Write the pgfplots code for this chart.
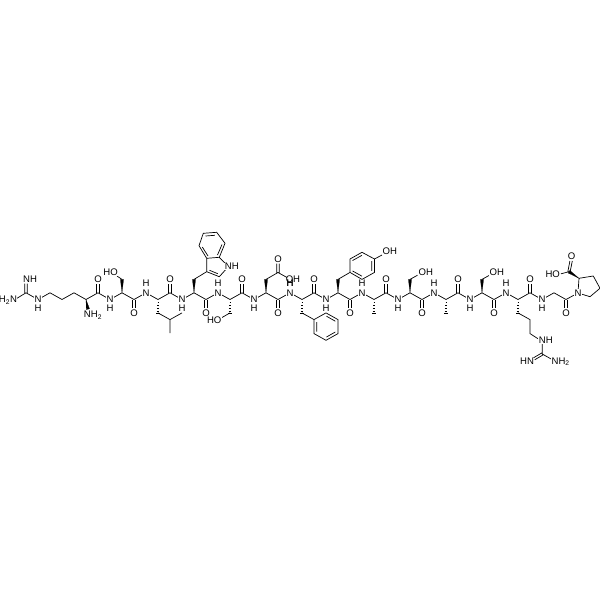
\documentclass[border=0pt]{standalone}
\usepackage{pgfplots}
\pgfplotsset{compat=1.18}
\usepackage{fontspec}
\setmainfont{Liberation Sans}
\pgfplotsset{bond/.style={black,line width=0.7pt,mark=none,line join=round,unbounded coords=jump},
  wdg/.style={black,fill=black,line width=0.2pt,mark=none}}
\tikzset{atom/.style={fill=white,inner sep=0.4pt,font=\fontsize{9.6}{10}\selectfont},
  lab/.style={inner sep=0pt,font=\fontsize{9.6}{10}\selectfont}}
\begin{document}
\begin{tikzpicture}
\path[use as bounding box] (0,0) rectangle (600bp,600bp);
\begin{axis}[at={(0,0)},anchor=south west,width=600bp,height=600bp,scale only axis,hide axis,
  xmin=0,xmax=600,ymin=0,ymax=600,y dir=reverse,clip=false]
% backbone
\addplot[bond] coordinates {(26,292.8)(38,299.5)(50,292.8)(62,299.5)(74,292.8)(86,299.5)(98,292.8)(110,299.5)(122,292.8)(134,299.5)(146,292.8)(158,299.5)(170,292.8)(182,299.5)(194,292.8)(206,299.5)(218,292.8)(230,299.5)(242,292.8)(254,299.5)(266,292.8)(278,299.5)(290,292.8)(302,299.5)(314,292.8)(326,299.5)(338,292.8)(350,299.5)(362,292.8)(374,299.5)(386,292.8)(398,299.5)(410,292.8)(422,299.5)(434,292.8)(446,299.5)(458,292.8)(470,299.5)(482,292.8)(494,299.5)(506,292.8)(518,299.5)(530,292.8)(542,299.5)(554,292.8)(566,299.5)(578,293)};
% carbonyls
\addplot[bond] coordinates {(96.8,292.8)(96.8,284)(nan,nan)(99.2,292.8)(99.2,284)(nan,nan)
(168.8,292.8)(168.8,284)(nan,nan)(171.2,292.8)(171.2,284)(nan,nan)
(240.8,292.8)(240.8,284)(nan,nan)(243.2,292.8)(243.2,284)(nan,nan)
(312.8,292.8)(312.8,284)(nan,nan)(315.2,292.8)(315.2,284)(nan,nan)
(384.8,292.8)(384.8,284)(nan,nan)(387.2,292.8)(387.2,284)(nan,nan)
(456.8,292.8)(456.8,284)(nan,nan)(459.2,292.8)(459.2,284)(nan,nan)
(528.8,292.8)(528.8,284)(nan,nan)(531.2,292.8)(531.2,284)(nan,nan)
(132.8,299.5)(132.8,308)(nan,nan)(135.2,299.5)(135.2,308)(nan,nan)
(204.8,299.5)(204.8,308)(nan,nan)(207.2,299.5)(207.2,308)(nan,nan)
(276.8,299.5)(276.8,308)(nan,nan)(279.2,299.5)(279.2,308)(nan,nan)
(348.8,299.5)(348.8,308)(nan,nan)(351.2,299.5)(351.2,308)(nan,nan)
(420.8,299.5)(420.8,308)(nan,nan)(423.2,299.5)(423.2,308)(nan,nan)
(492.8,299.5)(492.8,308)(nan,nan)(495.2,299.5)(495.2,308)(nan,nan)
(564.8,299.5)(564.8,308)(nan,nan)(567.2,299.5)(567.2,308)};
% guanidine left
\addplot[bond] coordinates {(15,299.5)(26,292.8)(nan,nan)(24.8,292.8)(24.8,283.5)(nan,nan)(27.2,292.8)(27.2,283.5)};
% serine 2
\addplot[bond] coordinates {(122,279.4)(117,276)};
% leucine
\addplot[bond] coordinates {(158,312.9)(170,319.6)(170,333)(nan,nan)(170,319.6)(182,312.9)};
% tryptophan and indole
\addplot[bond] coordinates {(194,279.4)(206.7,271.7)(206.7,258.3)(199,245.7)(203.3,233.3)(216.7,232.3)(225,243.3)(219.3,257.3)(206.7,258.3)(nan,nan)
(206.7,271.7)(219.3,276.7)(228.3,266.7)(219.3,257.3)(nan,nan)
(205.5,236)(214.8,235.3)(nan,nan)(222,244.5)(217.5,255)(nan,nan)(208,256)(202.3,247)(nan,nan)
(209.5,270.3)(217.8,273.7)};
% serine 5
\addplot[bond] coordinates {(230,312.9)(222,317.5)};
% aspartate
\addplot[bond] coordinates {(266,279.4)(278,272.5)(287,277.5)(nan,nan)(276.8,272.5)(276.8,263.5)(nan,nan)(279.2,272.5)(279.2,263.5)};
% phenylalanine
\addplot[bond] coordinates {(302,312.9)(314,319.6)(326,312.9)(338,319.6)(338,333.6)(326,340.3)(314,333.6)(314,319.6)(nan,nan)
(326.5,316.2)(335.3,321.2)(nan,nan)(335.3,332)(326.5,337)(nan,nan)(316.7,331.5)(316.7,322)};
% tyrosine
\addplot[bond] coordinates {(338,279.4)(350,272.4)(350,259)(362,252.3)(374.5,259)(374.5,272.4)(362,279.4)(350,272.4)(nan,nan)
(352.6,260.5)(362,255.3)(nan,nan)(371.8,261)(371.8,270.8)(nan,nan)(362,276.2)(352.6,271)(nan,nan)(374.5,259)(382,255)};
% serine side chains
\addplot[bond] coordinates {(410,279.4)(417.5,275.2)(nan,nan)(482,279.4)(489.5,275.2)};
% arginine right
\addplot[bond] coordinates {(518,312.9)(530,319.6)(530,333.6)(540,340)(nan,nan)(542.3,344)(542.3,354)(552,359.5)(nan,nan)
(541.7,353)(533.5,357.8)(nan,nan)(542.9,355)(534.7,359.8)};
% proline
\addplot[bond] coordinates {(578,293)(579,278.3)(593.3,276)(600,288.3)(590,296.7)(578,293)(nan,nan)
(569,271.7)(561,273.8)(nan,nan)(567.8,271.9)(569.9,261)(nan,nan)(570.2,271.5)(572.3,261)};
% wedges
\addplot[wdg] coordinates {(86,299.5)(86.3,309.6)(89.5,308.8)} --cycle;
\addplot[wdg] coordinates {(122,292.8)(120.4,279.4)(123.6,279.4)} --cycle;
\addplot[wdg] coordinates {(194,292.8)(192.4,279.4)(195.6,279.4)} --cycle;
\addplot[wdg] coordinates {(266,292.8)(264.4,279.4)(267.6,279.4)} --cycle;
\addplot[wdg] coordinates {(338,292.8)(336.4,279.4)(339.6,279.4)} --cycle;
\addplot[wdg] coordinates {(410,292.8)(408.4,279.4)(411.6,279.4)} --cycle;
\addplot[wdg] coordinates {(482,292.8)(480.4,279.4)(483.6,279.4)} --cycle;
\addplot[wdg] coordinates {(579,278.3)(568.2,273)(569.8,270.4)} --cycle;
% hashed bonds
\addplot[black,line width=0.6pt,mark=none,unbounded coords=jump] coordinates {
(157.5,302.5)(158.5,302.5)(nan,nan)(157.2,305.3)(158.8,305.3)(nan,nan)(156.9,308.1)(159.1,308.1)(nan,nan)(156.6,310.9)(159.4,310.9)(nan,nan)(156.3,313.3)(159.7,313.3)(nan,nan)
(229.5,302.5)(230.5,302.5)(nan,nan)(229.2,305.3)(230.8,305.3)(nan,nan)(228.9,308.1)(231.1,308.1)(nan,nan)(228.6,310.9)(231.4,310.9)(nan,nan)(228.3,313.3)(231.7,313.3)(nan,nan)
(301.5,302.5)(302.5,302.5)(nan,nan)(301.2,305.3)(302.8,305.3)(nan,nan)(300.9,308.1)(303.1,308.1)(nan,nan)(300.6,310.9)(303.4,310.9)(nan,nan)(300.3,313.3)(303.7,313.3)(nan,nan)
(373.5,302.5)(374.5,302.5)(nan,nan)(373.2,305.3)(374.8,305.3)(nan,nan)(372.9,308.1)(375.1,308.1)(nan,nan)(372.6,310.9)(375.4,310.9)(nan,nan)(372.3,313.3)(375.7,313.3)(nan,nan)
(445.5,302.5)(446.5,302.5)(nan,nan)(445.2,305.3)(446.8,305.3)(nan,nan)(444.9,308.1)(447.1,308.1)(nan,nan)(444.6,310.9)(447.4,310.9)(nan,nan)(444.3,313.3)(447.7,313.3)(nan,nan)
(517.5,302.5)(518.5,302.5)(nan,nan)(517.2,305.3)(518.8,305.3)(nan,nan)(516.9,308.1)(519.1,308.1)(nan,nan)(516.6,310.9)(519.4,310.9)(nan,nan)(516.3,313.3)(519.7,313.3)};
% N-H groups, backbone
\foreach \x in {38,110,182,254,326,398,470,542}{
  \edef\t{\noexpand\node[atom] at (axis cs:\x,299.5) {N};
          \noexpand\node[lab] at (axis cs:\x,308) {H};}\t}
\foreach \x in {146,218,290,362,434,506}{
  \edef\t{\noexpand\node[atom] at (axis cs:\x,292.8) {N};
          \noexpand\node[lab] at (axis cs:\x,283.6) {H};}\t}
\foreach \x in {98,170,242,314,386,458,530}{
  \edef\t{\noexpand\node[atom] at (axis cs:\x,279.4) {O};}\t}
\foreach \x in {134,206,278,350,422,494,566}{
  \edef\t{\noexpand\node[atom] at (axis cs:\x,313.6) {O};}\t}
\node[atom,anchor=east] at (axis cs:17.6,300) {H\textsubscript{2}N};
\node[atom,anchor=west] at (axis cs:22.6,279.3) {NH};
\node[atom,anchor=west] at (axis cs:83.4,315) {NH\textsubscript{2}};
\node[atom,anchor=east] at (axis cs:118.4,272.3) {HO};
\node[atom,anchor=east] at (axis cs:222,320) {HO};
\node[atom,anchor=west] at (axis cs:224.3,266.7) {NH};
\node[atom] at (axis cs:278,258.8) {O};
\node[lab,anchor=west] at (axis cs:285.6,279.2) {OH};
\node[lab] at (axis cs:290,283.6) {H};
\node[atom,anchor=west] at (axis cs:382,251.7) {OH};
\node[atom,anchor=west] at (axis cs:418,272.3) {OH};
\node[atom,anchor=west] at (axis cs:489,272.3) {OH};
\node[atom,anchor=west] at (axis cs:538.3,340.7) {NH};
\node[atom,anchor=east] at (axis cs:534.6,361.7) {HN};
\node[atom,anchor=west] at (axis cs:551,361.7) {NH\textsubscript{2}};
\node[atom] at (axis cs:578,293) {N};
\node[atom] at (axis cs:571.7,256.7) {O};
\node[atom,anchor=east] at (axis cs:560.5,274.3) {HO};
\end{axis}
\end{tikzpicture}
\end{document}
